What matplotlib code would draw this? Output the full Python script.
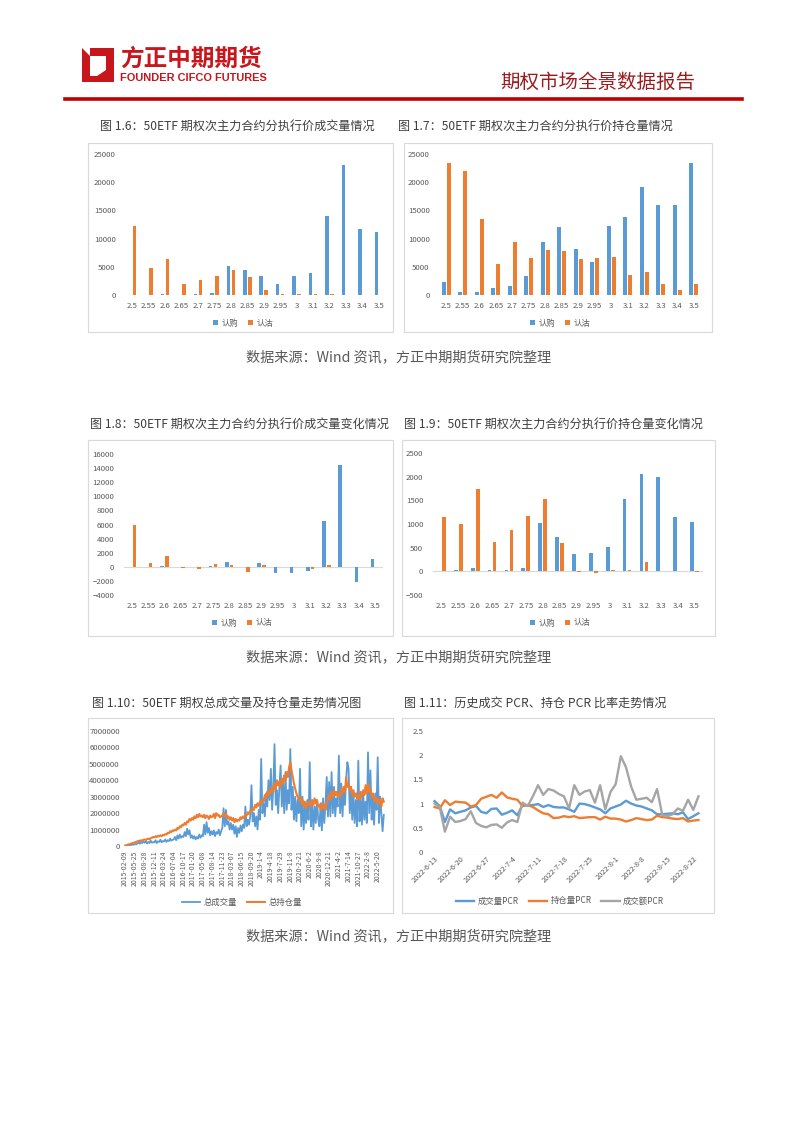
import matplotlib
matplotlib.use('Agg')
import matplotlib.pyplot as plt
from matplotlib.patches import Rectangle, Polygon
from matplotlib.ticker import StrMethodFormatter
import numpy as np

plt.rcParams['font.family'] = ['Noto Sans CJK SC', 'DejaVu Sans']

W, H = 802, 1133
BLUE = '#5B9BD5'
ORANGE = '#ED7D31'
GREY = '#A5A5A5'
TXT = '#595959'
RED = '#C8161D'

# ---- data ----
strikes = ['2.5', '2.55', '2.6', '2.65', '2.7', '2.75', '2.8', '2.85',
           '2.9', '2.95', '3', '3.1', '3.2', '3.3', '3.4', '3.5']

# 图1.6 成交量
vol_call = [0, 30, 100, 20, 100, 380, 5070, 4360, 3420, 1890, 3420, 3890, 14030, 23050, 11730, 11200]
vol_put = [12260, 4830, 6430, 2000, 2710, 3360, 4480, 3180, 940, 150, 150, 100, 200, 30, 20, 10]
# 图1.7 持仓量
oi_call = [2300, 590, 470, 1180, 1650, 3300, 9430, 11970, 8140, 5780, 12260, 13860, 19100, 15920, 16040, 23470]
oi_put = [23470, 22050, 13560, 5480, 9320, 6490, 8020, 7720, 6370, 6490, 6720, 3480, 4130, 1950, 830, 2000]
# 图1.8 成交量变化
dvol_call = [0, 20, 100, -50, 0, 80, 660, -30, 470, -950, -850, -660, 6440, 14440, -2180, 1090]
dvol_put = [5960, 520, 1560, -100, -380, 380, 280, -760, 240, 0, 40, -330, 190, 0, -30, 10]
# 图1.9 持仓量变化
doi_call = [0, 35, 70, 30, 25, 70, 1030, 720, 375, 380, 515, 1525, 2060, 1990, 1145, 1050]
doi_put = [1145, 995, 1735, 615, 875, 1170, 1525, 600, -20, -40, 20, 25, 200, 0, 0, -10]

# 图1.10 总成交量 / 总持仓量 (百万)
ts_labels = ['2015-02-09', '2015-05-25', '2015-08-28', '2015-12-11', '2016-03-24', '2016-07-04',
             '2016-10-17', '2017-01-20', '2017-05-08', '2017-08-14', '2017-11-23', '2018-03-07',
             '2018-06-15', '2018-09-20', '2019-1-4', '2019-4-18', '2019-7-29', '2019-11-8',
             '2020-2-21', '2020-6-2', '2020-9-8', '2020-12-21', '2021-4-2', '2021-7-14',
             '2021-10-27', '2022-2-8', '2022-5-20']
total_vol = [
    0.02, 0.03, 0.05, 0.04, 0.07, 0.06, 0.09, 0.08,
    0.12, 0.10, 0.15, 0.22, 0.14, 0.25, 0.18, 0.28,
    0.20, 0.30, 0.15, 0.25, 0.18, 0.32, 0.20, 0.24,
    0.22, 0.35, 0.18, 0.28, 0.25, 0.38, 0.22, 0.30,
    0.28, 0.40, 0.25, 0.35, 0.30, 0.45, 0.32, 0.38,
    0.40, 0.55, 0.35, 0.65, 0.45, 0.70, 0.50, 0.60,
    0.55, 0.85, 0.60, 1.05, 0.70, 0.95, 0.50, 0.65,
    0.45, 0.60, 0.40, 0.55, 0.45, 0.70, 0.50, 0.65,
    0.60, 1.30, 0.70, 1.45, 0.80, 1.10, 0.65, 0.90,
    0.70, 0.95, 0.60, 0.85, 0.75, 1.00, 0.65, 0.90,
    1.10, 2.30, 1.20, 2.20, 1.30, 1.50, 1.00, 1.40,
    1.00, 1.30, 0.75, 1.20, 0.55, 1.10, 0.80, 1.25,
    0.90, 1.30, 1.10, 2.40, 1.20, 1.60, 1.30, 1.80,
    3.70, 1.50, 2.00, 1.20, 1.80, 1.00, 2.20, 1.60,
    5.30, 2.00, 2.60, 1.80, 3.20, 2.40, 4.00, 2.80,
    4.70, 2.20, 3.60, 6.20, 2.50, 3.40, 2.00, 3.60,
    4.90, 2.40, 3.80, 2.00, 4.50, 2.20, 3.40, 2.60,
    5.90, 2.20, 3.60, 1.60, 3.00, 1.50, 2.80, 2.00,
    4.70, 1.20, 3.00, 1.00, 2.40, 1.40, 2.80, 1.60,
    5.10, 1.20, 2.60, 1.00, 2.40, 1.40, 2.80, 1.60,
    1.20, 2.60, 0.95, 2.90, 1.40, 2.60, 4.20, 1.80,
    3.90, 1.80, 4.50, 2.00, 3.60, 1.80, 2.90, 2.40,
    5.50, 2.00, 3.80, 1.80, 3.40, 2.50, 4.10, 5.10,
    4.70, 2.00, 3.60, 1.60, 3.20, 1.40, 2.80, 1.20,
    5.20, 1.50, 3.00, 1.30, 3.30, 1.60, 2.70, 1.40,
    5.70, 2.00, 4.60, 1.60, 3.00, 1.30, 3.20, 2.20,
    5.40, 1.40, 3.00, 1.90, 0.90, 1.90]
total_oi = [
    0.02, 0.05, 0.08, 0.10, 0.12, 0.15, 0.18, 0.20,
    0.22, 0.25, 0.28, 0.32, 0.30, 0.35, 0.33, 0.38,
    0.40, 0.36, 0.42, 0.45, 0.40, 0.48, 0.50, 0.55,
    0.52, 0.60, 0.55, 0.62, 0.58, 0.65, 0.60, 0.68,
    0.65, 0.72, 0.70, 0.80, 0.78, 0.90, 0.85, 0.95,
    0.92, 1.00, 0.95, 1.10, 1.05, 1.20, 1.15, 1.30,
    1.25, 1.40, 1.30, 1.50, 1.45, 1.65, 1.55, 1.70,
    1.60, 1.80, 1.70, 1.90, 1.75, 1.95, 1.80, 1.85,
    1.75, 1.90, 1.70, 1.85, 1.80, 1.65, 1.85, 1.75,
    1.80, 1.95, 1.70, 2.00, 1.85, 1.90, 1.75, 1.80,
    1.85, 2.00, 1.80, 1.95, 1.70, 1.80, 1.60, 1.75,
    1.55, 1.70, 1.45, 1.65, 1.50, 1.60, 1.55, 1.75,
    1.65, 1.80, 1.70, 1.90, 1.85, 2.05, 1.95, 2.15,
    2.10, 2.30, 2.20, 2.50, 2.35, 2.60, 2.45, 2.70,
    2.55, 2.80, 2.70, 3.10, 2.90, 3.30, 3.10, 3.40,
    3.20, 3.60, 3.30, 3.80, 3.50, 4.00, 3.70, 3.90,
    3.60, 4.10, 3.80, 4.30, 4.00, 4.50, 4.20, 4.80,
    5.10, 4.60, 4.20, 3.80, 3.50, 3.20, 3.00, 2.80,
    3.00, 2.60, 2.80, 2.40, 2.70, 2.30, 2.60, 2.50,
    2.70, 2.40, 2.80, 2.50, 2.90, 2.60, 2.80, 2.40,
    2.50, 2.20, 2.60, 2.30, 2.50, 2.20, 2.70, 2.90,
    3.10, 2.80, 3.30, 3.00, 3.40, 3.10, 3.30, 3.00,
    3.20, 3.00, 3.50, 3.20, 3.60, 3.30, 4.20, 3.60,
    3.80, 3.40, 3.60, 3.10, 3.40, 3.00, 3.20, 2.90,
    3.10, 2.80, 3.30, 3.00, 3.40, 3.10, 3.70, 3.20,
    3.80, 3.30, 3.50, 3.00, 3.20, 2.80, 3.00, 2.60,
    2.90, 2.60, 2.80, 2.40, 2.90, 2.70]

# 图1.11 PCR
pcr_labels = ['2022-6-13', '2022-6-20', '2022-6-27', '2022-7-4', '2022-7-11', '2022-7-18',
              '2022-7-25', '2022-8-1', '2022-8-8', '2022-8-15', '2022-8-22']
pcr_vol = [1.05, 0.95, 0.62, 0.88, 0.80, 0.83, 0.86, 0.92, 0.95, 0.83, 0.80, 0.89, 0.90,
           0.77, 0.81, 0.86, 0.76, 0.97, 0.96, 0.97, 0.99, 0.93, 0.97, 0.93, 0.92, 0.92,
           0.88, 0.83, 1.00, 0.99, 0.96, 0.92, 0.88, 0.80, 0.90, 0.94, 0.98, 1.06, 1.00,
           0.96, 0.94, 0.90, 0.86, 0.78, 0.78, 0.79, 0.80, 0.78, 0.82, 0.68, 0.74, 0.80]
pcr_oi = [0.93, 0.90, 1.07, 0.97, 1.04, 1.03, 1.02, 0.94, 0.97, 1.10, 1.14, 1.18, 1.12,
          1.23, 1.13, 1.10, 1.08, 0.95, 0.97, 0.93, 0.86, 0.80, 0.78, 0.70, 0.71, 0.74,
          0.72, 0.74, 0.70, 0.71, 0.72, 0.72, 0.67, 0.73, 0.69, 0.69, 0.67, 0.63, 0.66,
          0.70, 0.68, 0.66, 0.67, 0.75, 0.72, 0.71, 0.69, 0.68, 0.70, 0.63, 0.65, 0.66]
pcr_amt = [1.00, 0.93, 0.42, 0.73, 0.62, 0.64, 0.68, 0.84, 0.60, 0.54, 0.51, 0.56, 0.57,
           0.50, 0.61, 0.66, 0.62, 1.02, 0.95, 1.15, 1.38, 1.18, 1.30, 1.27, 1.20, 1.15,
           0.90, 1.38, 1.18, 1.25, 1.28, 1.02, 1.38, 0.88, 1.24, 1.40, 1.98, 1.75, 1.35,
           1.08, 1.10, 1.12, 1.03, 1.30, 0.77, 0.74, 0.78, 0.90, 0.85, 1.08, 0.87, 1.15]

fig = plt.figure(figsize=(W / 100, H / 100), dpi=100)
fig.patch.set_facecolor('white')


def px_axes(l, t, r, b):
    return fig.add_axes([l / W, 1 - b / H, (r - l) / W, (b - t) / H])


def px_box(l, t, r, b):
    fig.add_artist(Rectangle((l / W, 1 - b / H), (r - l) / W, (b - t) / H,
                             transform=fig.transFigure, fill=False, ec='#D9D9D9', lw=0.8))


def px_text(x, y, s, **kw):
    fig.text(x / W, 1 - y / H, s, **kw)


def style_axes(ax, xpad, ypad, fmt):
    for s in ax.spines.values():
        s.set_visible(False)
    ax.patch.set_alpha(0)
    ax.tick_params(length=0, labelsize=5.6, labelcolor=TXT)
    ax.tick_params(axis='x', pad=xpad)
    ax.tick_params(axis='y', pad=ypad)
    ax.yaxis.set_major_formatter(StrMethodFormatter(fmt))


def add_legend(ax, x, y, **kw):
    ax.legend(loc='center', bbox_to_anchor=(x / W, 1 - y / H), bbox_transform=fig.transFigure,
              frameon=False, fontsize=6, labelcolor=TXT, handletextpad=0.4,
              columnspacing=1.2, **kw)


def bar_chart(box, area, calls, puts, ylo, yhi, step, leg_xy, xpad, ypad):
    px_box(*box)
    ax = px_axes(*area)
    x = np.arange(len(strikes))
    ax.bar(x - 0.15, calls, 0.22, color=BLUE, label='认购')
    ax.bar(x + 0.15, puts, 0.22, color=ORANGE, label='认沽')
    ax.axhline(0, color='#D9D9D9', lw=0.8, zorder=0)
    ax.set_xlim(-0.5, len(strikes) - 0.5)
    ax.set_ylim(ylo, yhi)
    ax.set_yticks(np.arange(ylo, yhi + 1, step))
    ax.set_xticks(x, strikes)
    style_axes(ax, xpad, ypad, '{x:.0f}')
    add_legend(ax, *leg_xy, ncol=2, handlelength=0.6, handleheight=0.6)
    return ax


# ---- header ----
fig.add_artist(Polygon([[82 / W, 1 - 48 / H], [114 / W, 1 - 48 / H], [114 / W, 1 - 82 / H],
                        [82 / W, 1 - 82 / H]], closed=True, transform=fig.transFigure,
                       fc=RED, ec='none'))
fig.add_artist(Polygon([[90 / W, 1 - 56 / H], [106 / W, 1 - 56 / H], [106 / W, 1 - 70 / H],
                        [97 / W, 1 - 76 / H], [90 / W, 1 - 76 / H]], closed=True,
                       transform=fig.transFigure, fc='white', ec='none'))
fig.add_artist(Polygon([[82 / W, 1 - 48 / H], [90 / W, 1 - 56 / H], [90 / W, 1 - 48 / H]],
                       closed=True, transform=fig.transFigure, fc='white', ec='none'))
px_text(120, 59, '方正中期期货', fontsize=17, fontweight='bold', color=RED, va='center', ha='left')
px_text(120, 78, 'FOUNDER CIFCO FUTURES', fontsize=7.9, fontweight='bold', color=RED,
        va='center', ha='left', family=['Liberation Sans', 'DejaVu Sans'])
px_text(695, 82, '期权市场全景数据报告', fontsize=14, color='#9B1C1F', va='center', ha='right')
fig.add_artist(plt.Line2D([65 / W, 742 / W], [1 - 99 / H, 1 - 99 / H], transform=fig.transFigure,
                          color='#C00000', lw=2.6))

TITLE = dict(fontsize=8.7, color='#3F3F3F', va='center', ha='left')
SRC = dict(fontsize=10.2, color=TXT, va='center', ha='center')

# ---- row 1 ----
px_text(100, 126, '图 1.6：50ETF 期权次主力合约分执行价成交量情况', **TITLE)
px_text(398, 126, '图 1.7：50ETF 期权次主力合约分执行价持仓量情况', **TITLE)
bar_chart((88, 143, 393, 332), (124, 154, 387, 295), vol_call, vol_put,
          0, 25000, 5000, (243, 323), 5, 6)
bar_chart((404, 143, 712, 332), (438, 154, 702, 295), oi_call, oi_put,
          0, 25000, 5000, (560, 323), 5, 6)
px_text(399, 357, '数据来源：Wind 资讯，方正中期期货研究院整理', **SRC)

# ---- row 2 ----
px_text(90, 424, '图 1.8：50ETF 期权次主力合约分执行价成交量变化情况', **TITLE)
px_text(404, 424, '图 1.9：50ETF 期权次主力合约分执行价持仓量变化情况', **TITLE)
bar_chart((88, 440, 393, 636), (124, 454, 383, 595), dvol_call, dvol_put,
          -4000, 16000, 2000, (242, 623), 5, 7)
bar_chart((402, 440, 715, 636), (433, 453, 703, 595), doi_call, doi_put,
          -500, 2500, 500, (560, 623), 5, 7)
px_text(399, 657, '数据来源：Wind 资讯，方正中期期货研究院整理', **SRC)

# ---- row 3 ----
px_text(92, 703, '图 1.10：50ETF 期权总成交量及持仓量走势情况图', **TITLE)
px_text(404, 703, '图 1.11：历史成交 PCR、持仓 PCR 比率走势情况', **TITLE)

px_box(88, 718, 393, 913)
ax5 = px_axes(124, 731, 385, 846)
n5 = len(total_vol)
idx5 = np.arange(n5)
ax5.plot(idx5, np.array(total_vol) * 1e6, color=BLUE, lw=1.3, label='总成交量')
ax5.plot(idx5, np.array(total_oi) * 1e6, color=ORANGE, lw=1.5, label='总持仓量')
ax5.axhline(0, color='#D9D9D9', lw=0.8, zorder=0)
ax5.set_xlim(-1, n5)
ax5.set_ylim(0, 7e6)
ax5.set_yticks(np.arange(0, 7e6 + 1, 1e6))
ax5.set_xticks(np.arange(0, n5, 8)[:len(ts_labels)], ts_labels, rotation=90)
style_axes(ax5, 3, 3, '{x:.0f}')
ax5.tick_params(axis='x', labelsize=4.9)
add_legend(ax5, 242, 902, ncol=2, handlelength=2.2)

px_box(402, 718, 714, 913)
ax6 = px_axes(433, 731, 700, 852)
idx6 = np.arange(len(pcr_vol))
ax6.plot(idx6, pcr_vol, color=BLUE, lw=1.7, label='成交量PCR')
ax6.plot(idx6, pcr_oi, color=ORANGE, lw=1.7, label='持仓量PCR')
ax6.plot(idx6, pcr_amt, color=GREY, lw=1.7, label='成交额PCR')
ax6.axhline(0, color='#D9D9D9', lw=0.8, zorder=0)
ax6.set_xlim(-0.3, len(pcr_vol) - 0.7)
ax6.set_ylim(0, 2.5)
ax6.set_yticks(np.arange(0, 2.51, 0.5))
ax6.set_xticks(np.arange(0, len(pcr_vol), 5)[:len(pcr_labels)], pcr_labels,
               rotation=45, ha='right', rotation_mode='anchor')
style_axes(ax6, 2, 7, '{x:g}')
ax6.tick_params(axis='x', labelsize=5.3)
add_legend(ax6, 560, 901, ncol=3, handlelength=2.2)

px_text(399, 936, '数据来源：Wind 资讯，方正中期期货研究院整理', **SRC)

fig.savefig('out.png', dpi=100, facecolor='white')
